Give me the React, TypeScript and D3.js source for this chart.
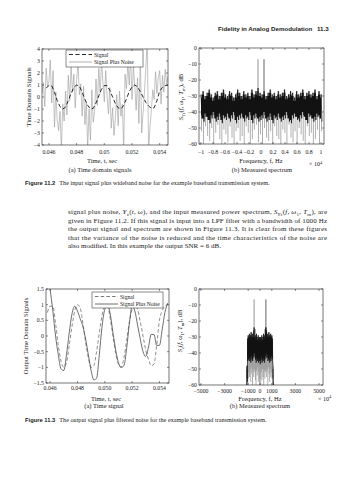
import React from 'react';
import * as d3 from 'd3';

// ---- data ----

// clean baseband signal (dashed), t = 0.0458 s + 0.0002 s * i
const signalStart = 0.0458;
const signalStep = 0.0002;
const signal = [
  0.75, 0.95, 0.95, 0.4, -0.3, -0.8, -1.0, -0.85, -0.3, 0.3,
  0.8, 1.0, 0.9, 0.4, -0.2, -0.7, -1.0, -0.95, -0.5, 0.1,
  0.65, 0.95, 0.95, 0.55, 0.0, -0.55, -0.9, -1.0, -0.7, -0.15,
  0.45, 0.85, 1.0, 0.85, 0.45, 0.0, -0.45, -0.75, -0.95, -0.9,
  -0.3, 0.5, 0.8, 0.95, 1.0,
];

// input signal plus wideband noise, t = 0.0455 s + 0.0001 s * i
const noisyStart = 0.0455;
const noisyStep = 0.0001;
const noisyInput = [
  0.3, 1.2, -0.8, 2.4, 0.9, 1.3, 3.1, -0.5, 2.2, -2.5,
  0.4, -1.9, -2.8, -1.2, -4.4, -0.6, -2.0, 0.5, -1.5, 1.8,
  -0.3, 2.6, 0.4, 1.9, -0.9, 1.4, 2.9, 0.2, 1.1, -1.6,
  0.9, -2.3, -0.4, -4.3, -1.0, -3.6, 0.6, -2.1, -1.2, 1.5,
  -0.7, 2.4, 0.3, 3.0, 1.2, -0.4, 2.2, 0.1, -1.4, 0.8,
  -2.6, -0.9, -3.2, -1.8, 0.2, -2.4, 0.5, -1.6, -0.6, -4.3,
  1.9, 0.7, 2.8, 1.0, 3.3, -0.2, 2.6, 0.9, -1.1, 1.6,
  -2.2, 3.4, -3.0, -1.3, 0.4, 2.5, 4.6, -4.4, -2.5, -1.1,
  0.6, -0.2, 2.1, 0.3, 1.6, 2.2, -0.6, 1.8, 0.4, 2.3,
  1.1, 1.7,
];

// LPF output (signal plus filtered noise), t = 0.046 s + 0.0002 s * i
const outStart = 0.046;
const outStep = 0.0002;
const outputNoisy = [
  1.5, 0.8, 0.0, -0.6, -1.05, -1.1, -0.6, 0.1, 0.7, 0.95,
  0.8, 0.55, 0.3, -0.1, -0.6, -1.1, -1.4, -1.35, -0.6, 0.3,
  0.85, 1.0, 0.7, 0.1, -0.45, -0.85, -1.0, -0.95, -0.4, 0.4,
  0.95, 0.8, 0.35, -0.1, -0.5, -0.65, -0.35, 0.05, 0.05, -0.3,
  -0.3, 0.2, 0.75, 1.05,
];

// input spectrum, 60 bins across -10 kHz .. 10 kHz (dB): band top, band bottom, deep dips
const inSpecStart = -10000;
const inSpecStep = 20000 / 59;
const inSpecHi = [
  -29, -27, -30, -28, -26, -29, -31, -28, -27, -30,
  -28, -26, -29, -30, -27, -28, -31, -29, -26, -28,
  -30, -27, -29, -28, -30, -26, -29, -27, -25, -28,
  -29, -27, -30, -28, -26, -29, -28, -30, -27, -29,
  -28, -26, -30, -29, -27, -28, -31, -27, -29, -28,
  -26, -30, -28, -27, -29, -28, -26, -30, -27, -29,
];
const inSpecLo = [
  -44, -46, -43, -45, -47, -44, -42, -46, -45, -43,
  -47, -44, -45, -43, -46, -44, -42, -47, -45, -44,
  -43, -46, -44, -45, -42, -47, -44, -43, -46, -45,
  -44, -42, -46, -45, -43, -47, -44, -45, -43, -46,
  -45, -44, -42, -46, -47, -44, -43, -45, -46, -44,
  -42, -45, -47, -43, -44, -46, -45, -43, -44, -46,
];
const inSpecDip = [
  -52, -60, -49, -55, -58, -50, -60, -53, -48, -57,
  -60, -51, -54, -59, -49, -56, -60, -52, -50, -58,
  -55, -60, -49, -53, -60, -57, -51, -48, -59, -54,
  -60, -50, -56, -58, -52, -60, -49, -55, -57, -60,
  -51, -53, -60, -48, -56, -59, -52, -60, -50, -54,
  -58, -60, -49, -55, -53, -60, -57, -51, -60, -52,
];

// output spectrum, 47 bins across -1150 .. 1150 Hz (dB)
const outSpecStart = -1150;
const outSpecStep = 50;
const outSpecHi = [
  -60, -48, -31, -29, -30, -28, -31, -29, -27, -30,
  -28, -30, -26, -24, -25, -29, -31, -28, -30, -32,
  -29, -31, -30, -33, -30, -31, -29, -32, -30, -28,
  -31, -29, -25, -24, -26, -30, -28, -30, -27, -29,
  -31, -28, -30, -29, -31, -48, -60,
];
const outSpecLo = [
  -60, -58, -45, -44, -42, -45, -43, -46, -42, -44,
  -45, -41, -43, -40, -42, -44, -46, -43, -45, -44,
  -46, -43, -45, -47, -44, -42, -46, -44, -45, -43,
  -46, -44, -42, -40, -43, -41, -45, -44, -42, -46,
  -43, -45, -42, -44, -45, -58, -60,
];
const outSpecDip = [
  -60, -60, -60, -56, -52, -55, -50, -58, -53, -49,
  -60, -51, -55, -50, -52, -57, -60, -51, -54, -49,
  -58, -52, -60, -56, -60, -52, -57, -50, -55, -60,
  -51, -56, -52, -50, -55, -51, -60, -49, -53, -58,
  -50, -55, -52, -56, -60, -60, -60,
];

// the two signal tones (Hz) and their peak levels (dB)
const toneFreqs = [-500, 500];
const inToneLevels = [-7, -7];
const outToneLevels = [-6.5, -6.5];

// tick values
const timeTicks = [0.046, 0.048, 0.05, 0.052, 0.054];
const timeTickLabels = ['0.046', '0.048', '0.05', '0.052', '0.054'];
const outTimeTickLabels = ['0.046', '0.048', '0.050', '0.052', '0.054'];
const inYTicks = [4, 3, 2, 1, 0, -1, -2, -3, -4];
const outYTicks = [1.5, 1, 0.5, 0, -0.5, -1, -1.5];
const dbTicks = [0, -10, -20, -30, -40, -50, -60];
const inFreqTicks = [-10000, -8000, -6000, -4000, -2000, 0, 2000, 4000, 6000, 8000, 10000];
const inFreqTickLabels = ['−1', '−0.8', '−0.6', '−0.4', '−0.2', '0', '0.2', '0.4', '0.6', '0.8', '1'];
const outFreqTicks = [-5000, -3000, -1000, 0, 1000, 3000, 5000];
const outFreqTickLabels = ['−5000', '−3000', '−1000', '0', '1000', '3000', '5000'];

const bodyLines = [
  'given in Figure 11.2. If this signal is input into a LPF filter with a bandwidth of 1000 Hz',
  'the output signal and spectrum are shown in Figure 11.3. It is clear from these figures',
  'that the variance of the noise is reduced and the time characteristics of the noise are',
];

const serif = '"Liberation Serif", "DejaVu Serif", serif';
const sans = '"Liberation Sans", Arial, sans-serif';
const ink = '#1a1a1a';
const tickFont = 5.8;

const fmtNum = (v: number) => (v < 0 ? '−' + String(-v) : String(v));

type Box = { l: number; r: number; t: number; b: number };

function Frame({ id, box, x, y, xTicks, xLabels, yTicks, tickY, children }: any) {
  return (
    <g>
      <defs>
        <clipPath id={id}>
          <rect x={box.l} y={box.t} width={box.r - box.l} height={box.b - box.t} />
        </clipPath>
      </defs>
      <g clipPath={`url(#${id})`}>{children}</g>
      <rect x={box.l} y={box.t} width={box.r - box.l} height={box.b - box.t}
        fill="none" stroke={ink} strokeWidth={0.6} />
      {xTicks.map((v: number, i: number) => (
        <g key={'x' + v}>
          <line x1={x(v)} x2={x(v)} y1={box.b} y2={box.b - 2} stroke={ink} strokeWidth={0.5} />
          <line x1={x(v)} x2={x(v)} y1={box.t} y2={box.t + 2} stroke={ink} strokeWidth={0.5} />
          <text x={x(v)} y={tickY} textAnchor="middle" fontSize={tickFont} fontFamily={serif} fill={ink}>
            {xLabels[i]}
          </text>
        </g>
      ))}
      {yTicks.map((v: number) => (
        <g key={'y' + v}>
          <line x1={box.l} x2={box.l + 2} y1={y(v)} y2={y(v)} stroke={ink} strokeWidth={0.5} />
          <line x1={box.r} x2={box.r - 2} y1={y(v)} y2={y(v)} stroke={ink} strokeWidth={0.5} />
          <text x={box.l - 2} y={y(v) + 2} textAnchor="end" fontSize={tickFont} fontFamily={serif} fill={ink}>
            {fmtNum(v)}
          </text>
        </g>
      ))}
    </g>
  );
}

function Spectrum({ x, y, start, step, hi, lo, dip, tones, levels }: any) {
  const zig: [number, number][] = [];
  hi.forEach((h: number, i: number) => {
    const f = start + i * step;
    zig.push([x(f), y(h)]);
    zig.push([x(f + step / 2), y(lo[i])]);
  });
  // solid core of the band, a couple of dB inside the jagged edges
  const core = d3.area<number>()
    .x((_, i) => x(start + i * step))
    .y0((_, i) => y(Math.max(lo[i], -60) + 2))
    .y1(h => y(h - 2))
    .curve(d3.curveStep);
  const dips = d3.path();
  dip.forEach((d: number, i: number) => {
    const f = start + i * step + step / 4;
    dips.moveTo(x(f), y(hi[i]));
    dips.lineTo(x(f), y(d));
  });
  return (
    <g>
      <path d={dips.toString()} stroke="#8c8c8c" strokeWidth={0.7} fill="none" />
      <path d={core(hi) || ''} fill="#151515" />
      <path d={d3.line()(zig) || ''} stroke="#111" strokeWidth={0.7} fill="none" />
      {tones.map((f: number, i: number) => (
        <line key={f} x1={x(f)} x2={x(f)} y1={y(-30)} y2={y(levels[i])} stroke={i === 0 ? '#666' : '#222'} strokeWidth={0.7} />
      ))}
    </g>
  );
}

function Legend({ box, dashColor, solidColor, dash }: any) {
  const ly1 = box.t + 4.5;
  const ly2 = box.t + 12;
  return (
    <g>
      <rect x={box.l} y={box.t} width={box.r - box.l} height={box.b - box.t} fill="#fff" stroke={ink} strokeWidth={0.5} />
      <line x1={box.l + 3} x2={box.l + 26} y1={ly1} y2={ly1} stroke={dashColor} strokeWidth={0.9} strokeDasharray={dash} />
      <line x1={box.l + 3} x2={box.l + 26} y1={ly2} y2={ly2} stroke={solidColor} strokeWidth={0.8} />
      <text x={box.l + 28} y={ly1 + 2} fontSize={5.6} fontFamily={serif} fill={ink}>Signal</text>
      <text x={box.l + 28} y={ly2 + 2} fontSize={5.6} fontFamily={serif} fill={ink}>Signal Plus Noise</text>
    </g>
  );
}

export default function App() {
  // panel boxes
  const tl: Box = { l: 42, r: 168, t: 49, b: 145 };
  const tr: Box = { l: 199, r: 324, t: 48, b: 144 };
  const bl: Box = { l: 46, r: 169, t: 289, b: 383 };
  const br: Box = { l: 199, r: 323, t: 289, b: 385 };

  const xTL = d3.scaleLinear().domain([0.0455, 0.0546]).range([tl.l, tl.r]);
  const yTL = d3.scaleLinear().domain([-4, 4]).range([tl.b, tl.t]);
  const xTR = d3.scaleLinear().domain([-10000, 10000]).range([201, 321]);
  const yTR = d3.scaleLinear().domain([-60, 0]).range([tr.b, tr.t]);
  const xBL = d3.scaleLinear().domain([0.0457, 0.0547]).range([bl.l, bl.r]);
  const yBL = d3.scaleLinear().domain([-1.5, 1.5]).range([bl.b, bl.t]);
  const xBR = d3.scaleLinear().domain([-5000, 5000]).range([201, 319]);
  const yBR = d3.scaleLinear().domain([-60, 0]).range([br.b, br.t]);

  const lineTL = d3.line<number>().x((_, i) => xTL(noisyStart + i * noisyStep)).y(d => yTL(d));
  const sigTL = d3.line<number>().x((_, i) => xTL(signalStart + i * signalStep)).y(d => yTL(d));
  const sigBL = d3.line<number>().x((_, i) => xBL(signalStart + i * signalStep)).y(d => yBL(d)).curve(d3.curveMonotoneX);
  const outBL = d3.line<number>().x((_, i) => xBL(outStart + i * outStep)).y(d => yBL(d)).curve(d3.curveMonotoneX);

  return (
    <svg width={354} height={480} style={{ position: 'absolute', left: 0, top: 0, background: '#fff' }}>
      {/* running head */}
      <text x={218} y={31} fontSize={6.2} fontFamily={sans} fontWeight="bold" fill={ink}>Fidelity in Analog Demodulation</text>
      <text x={317} y={31} fontSize={6.2} fontFamily={sans} fontWeight="bold" fill={ink}>11.3</text>

      {/* Figure 11.2 (a) */}
      <Frame id="c1" box={tl} x={xTL} y={yTL} xTicks={timeTicks} xLabels={timeTickLabels} yTicks={inYTicks} tickY={153.5}>
        <path d={lineTL(noisyInput) || ''} fill="none" stroke="#9a9a9a" strokeWidth={0.6} />
        <path d={sigTL(signal) || ''} fill="none" stroke="#111" strokeWidth={0.9} strokeDasharray="4 2.5" />
        <Legend box={{ l: 66, r: 143, t: 50, b: 67 }} dashColor="#111" solidColor="#9a9a9a" dash="4 2.5" />
      </Frame>
      <text transform="translate(31,97) rotate(-90)" textAnchor="middle" fontSize={6.8} fontFamily={serif} fill={ink}>Time Domain Signals</text>
      <text x={102} y={162.5} textAnchor="middle" fontSize={6.5} fontFamily={serif} fill={ink}>Time, t, sec</text>
      <text x={100} y={171.5} textAnchor="middle" fontSize={6.5} fontFamily={serif} fill={ink}>(a) Time domain signals</text>

      {/* Figure 11.2 (b) */}
      <Frame id="c2" box={tr} x={xTR} y={yTR} xTicks={inFreqTicks} xLabels={inFreqTickLabels} yTicks={dbTicks} tickY={153.5}>
        <Spectrum x={xTR} y={yTR} start={inSpecStart} step={inSpecStep} hi={inSpecHi} lo={inSpecLo} dip={inSpecDip}
          tones={toneFreqs} levels={inToneLevels} />
      </Frame>
      <text transform="translate(183,97) rotate(-90)" textAnchor="middle" fontSize={6.8} fontFamily={serif} fill={ink}>
        <tspan fontStyle="italic">S</tspan><tspan dy={1.5} fontSize={4.8} fontStyle="italic">Y</tspan><tspan dy={0.8} fontSize={3.8}>z</tspan>
        <tspan dy={-2.3}>(</tspan><tspan fontStyle="italic">f</tspan><tspan>, ω</tspan><tspan dy={1.5} fontSize={4.8}>1</tspan>
        <tspan dy={-1.5}>, </tspan><tspan fontStyle="italic">T</tspan><tspan dy={1.5} fontSize={4.8}>m</tspan><tspan dy={-1.5}>), dB</tspan>
      </text>
      <text x={261} y={162.5} textAnchor="middle" fontSize={6.5} fontFamily={serif} fill={ink}>Frequency, f, Hz</text>
      <text x={309} y={166} fontSize={6} fontFamily={serif} fill={ink}>× 10<tspan dy={-2.5} fontSize={4.5}>4</tspan></text>
      <text x={262} y={171.5} textAnchor="middle" fontSize={6.5} fontFamily={serif} fill={ink}>(b) Measured spectrum</text>

      {/* caption 11.2 */}
      <text x={25} y={184.5} fontSize={6.2} fontFamily={serif} fill={ink}>
        <tspan fontFamily={sans} fontWeight="bold" fontSize={5.8}>Figure 11.2</tspan>
        <tspan dx={4}>The input signal plus wideband noise for the example baseband transmission system.</tspan>
      </text>

      {/* body text */}
      <text x={68} y={214} fontSize={7} fontFamily={serif} fill={ink} textLength={259} lengthAdjust="spacing">
        signal plus noise, <tspan fontStyle="italic">Y</tspan><tspan dy={1.5} fontSize={5}>z</tspan><tspan dy={-1.5}>(</tspan><tspan fontStyle="italic">t</tspan>, <tspan fontStyle="italic">ω</tspan>), and the input measured power spectrum, <tspan fontStyle="italic">S</tspan><tspan dy={1.5} fontSize={5} fontStyle="italic">Y</tspan><tspan dy={0.8} fontSize={4}>z</tspan><tspan dy={-2.3}>(</tspan><tspan fontStyle="italic">f</tspan>, <tspan fontStyle="italic">ω</tspan><tspan dy={1.5} fontSize={5}>1</tspan><tspan dy={-1.5}>, </tspan><tspan fontStyle="italic">T</tspan><tspan dy={1.5} fontSize={5}>m</tspan><tspan dy={-1.5}>), are</tspan>
      </text>
      {bodyLines.map((s, i) => (
        <text key={i} x={68} y={222.5 + i * 8.5} fontSize={7} fontFamily={serif} fill={ink} textLength={259} lengthAdjust="spacing">{s}</text>
      ))}
      <text x={68} y={248} fontSize={7} fontFamily={serif} fill={ink}>also modified. In this example the output SNR = 6 dB.</text>

      {/* Figure 11.3 (a) */}
      <Frame id="c3" box={bl} x={xBL} y={yBL} xTicks={timeTicks} xLabels={outTimeTickLabels} yTicks={outYTicks} tickY={389.5}>
        <path d={sigBL(signal) || ''} fill="none" stroke="#6a6a6a" strokeWidth={0.75} strokeDasharray="3.5 2.2" />
        <path d={outBL(outputNoisy) || ''} fill="none" stroke="#4a4a4a" strokeWidth={0.8} />
        <Legend box={{ l: 92, r: 163, t: 292, b: 308 }} dashColor="#6a6a6a" solidColor="#4a4a4a" dash="3.5 2.2" />
      </Frame>
      <text transform="translate(28,336) rotate(-90)" textAnchor="middle" fontSize={6.5} fontFamily={serif} fill={ink}>Output Time Domain Signals</text>
      <text x={106} y={400.5} textAnchor="middle" fontSize={6.5} fontFamily={serif} fill={ink}>Time, t, sec</text>
      <text x={104} y={408} textAnchor="middle" fontSize={6.5} fontFamily={serif} fill={ink}>(a) Time signal</text>

      {/* Figure 11.3 (b) */}
      <Frame id="c4" box={br} x={xBR} y={yBR} xTicks={outFreqTicks} xLabels={outFreqTickLabels} yTicks={dbTicks} tickY={392.5}>
        <Spectrum x={xBR} y={yBR} start={outSpecStart} step={outSpecStep} hi={outSpecHi} lo={outSpecLo} dip={outSpecDip}
          tones={toneFreqs} levels={outToneLevels} />
      </Frame>
      <text transform="translate(182,331) rotate(-90)" textAnchor="middle" fontSize={6.5} fontFamily={serif} fill={ink}>
        <tspan fontStyle="italic">S</tspan><tspan dy={1.5} fontSize={4.6}>z</tspan><tspan dy={-1.5}>(</tspan><tspan fontStyle="italic">f</tspan><tspan>, ω</tspan><tspan dy={1.5} fontSize={4.6}>1</tspan>
        <tspan dy={-1.5}>, </tspan><tspan fontStyle="italic">T</tspan><tspan dy={1.5} fontSize={4.6}>m</tspan><tspan dy={-1.5}>), dB</tspan>
      </text>
      <text x={260} y={400.5} textAnchor="middle" fontSize={6.5} fontFamily={serif} fill={ink}>Frequency, f, Hz</text>
      <text x={318} y={400.5} fontSize={6} fontFamily={serif} fill={ink}>× 10<tspan dy={-2.5} fontSize={4.5}>4</tspan></text>
      <text x={260} y={408} textAnchor="middle" fontSize={6.5} fontFamily={serif} fill={ink}>(b) Measured spectrum</text>

      {/* caption 11.3 */}
      <text x={25} y={421.5} fontSize={6.2} fontFamily={serif} fill={ink}>
        <tspan fontFamily={sans} fontWeight="bold" fontSize={5.8}>Figure 11.3</tspan>
        <tspan dx={4}>The output signal plus filtered noise for the example baseband transmission system.</tspan>
      </text>
    </svg>
  );
}
